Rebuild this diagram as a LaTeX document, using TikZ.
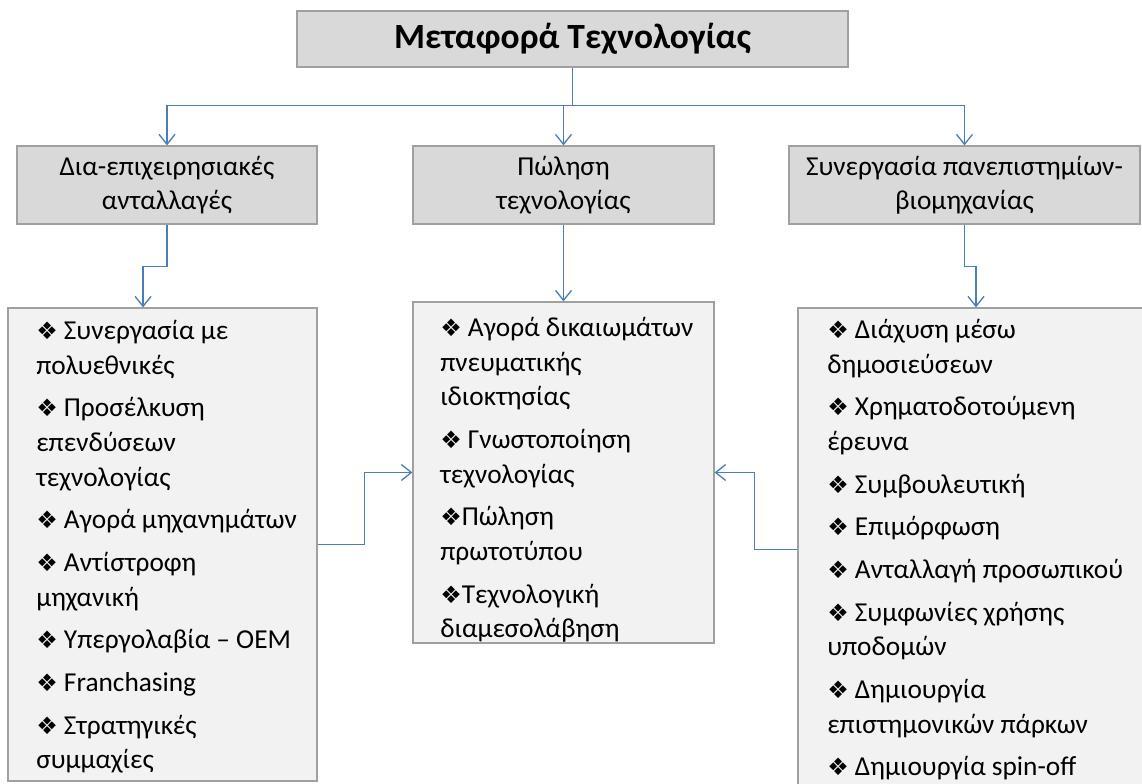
\documentclass[tikz,border=0pt]{standalone}
\usepackage{fontspec}
\setmainfont{Carlito}
\newfontfamily\symfont{DejaVu Sans}
\usepackage{xcolor}
\usetikzlibrary{arrows.meta,positioning}
\definecolor{lineblue}{HTML}{4A7EBB}
\definecolor{boxgray}{HTML}{D9D9D9}
\definecolor{listgray}{HTML}{F2F2F2}
\definecolor{edgegray}{HTML}{A0A0A0}
\newcommand{\dmd}{{\symfont\fontsize{18}{18}\selectfont ❖}}

\begin{document}
\begin{tikzpicture}[x=0.75pt, y=-0.75pt,
  hdr/.style={draw=edgegray, line width=0.9pt, fill=boxgray, align=center, inner sep=0pt,
    font=\fontsize{20.5}{25.5}\selectfont},
  lst/.style={draw=edgegray, line width=0.9pt, fill=listgray, inner sep=0pt},
  items/.style={align=left, inner sep=0pt, font=\fontsize{20.5}{26}\selectfont},
  lnk/.style={draw=lineblue, line width=1pt},
  arr/.style={lnk, -{Straight Barb[length=7.5pt, width=12pt]}}
]
\useasboundingbox (0,0) rectangle (1142,783);
\clip (0,0) rectangle (1142,783);

% top
\node[hdr, minimum width=413.25pt, minimum height=42pt, font=\bfseries\fontsize{26.6}{32}\selectfont] (title) at (572.5,39) {Μεταφορά Τεχνολογίας};

% second row
\node[hdr, minimum width=225pt, minimum height=58.5pt] (inter) at (167,185) {Δια-επιχειρησιακές\\ανταλλαγές};
\node[hdr, minimum width=225.75pt, minimum height=58.5pt] (sale) at (563.5,185) {Πώληση\\τεχνολογίας};
\node[hdr, minimum width=263.25pt, minimum height=58.5pt] (univ) at (964.5,185) {Συνεργασία πανεπιστημίων-\\βιομηχανίας};

% lists
\node[lst, minimum width=231.75pt, minimum height=354.75pt] (lbox) at (162.5,544.5) {};
\node[lst, minimum width=225.75pt, minimum height=255.75pt] (mbox) at (563.5,472.5) {};
\node[lst, minimum width=286.5pt, minimum height=391.5pt] (rbox) at (989,569) {};

\node[items, anchor=north west] (ltext) at (36,320) {\dmd{} Συνεργασία με\\πολυεθνικές\\[6pt]
  \dmd{} Προσέλκυση\\επενδύσεων\\τεχνολογίας\\[6pt]
  \dmd{} Αγορά μηχανημάτων\\[6pt]
  \dmd{} Αντίστροφη\\μηχανική\\[6pt]
  \dmd{} Υπεργολαβία – OEM\\[6pt]
  \dmd{} Franchasing\\[6pt]
  \dmd{} Στρατηγικές\\συμμαχίες};
\node[items, anchor=north west] (mtext) at (440,317) {\dmd{} Αγορά δικαιωμάτων\\πνευματικής\\ιδιοκτησίας\\[6pt]
  \dmd{} Γνωστοποίηση\\τεχνολογίας\\[6pt]
  \dmd{}Πώληση\\πρωτοτύπου\\[6pt]
  \dmd{}Τεχνολογική\\διαμεσολάβηση};
\node[items, anchor=north west] (rtext) at (827,319) {\dmd{} Διάχυση μέσω\\δημοσιεύσεων\\[6pt]
  \dmd{} Χρηματοδοτούμενη\\έρευνα\\[6pt]
  \dmd{} Συμβουλευτική\\[6pt]
  \dmd{} Επιμόρφωση\\[6pt]
  \dmd{} Ανταλλαγή προσωπικού\\[6pt]
  \dmd{} Συμφωνίες χρήσης\\υποδομών\\[6pt]
  \dmd{} Δημιουργία\\επιστημονικών πάρκων\\[6pt]
  \dmd{} Δημιουργία spin-off};

% connectors
\draw[lnk] (title.south) -- ++(0,38) coordinate (hub);
\draw[arr] (hub) -| (inter.north);
\draw[arr] (hub) -| (sale.north);
\draw[arr] (hub) -| (univ.north);
\draw[arr] (inter.south) -- ++(0,42) -| ([xshift=-14.6pt]lbox.north);
\draw[arr] (sale.south) -- (mbox.north);
\draw[arr] (univ.south) -- ++(0,42) -| ([xshift=-9.75pt]rbox.north);
\draw[arr] (lbox.east) -- ++(47,0) |- (mbox.west);
\draw[arr] (rbox.north west) ++(0,242) -- ++(-43,0) |- (mbox.east);
\end{tikzpicture}
\end{document}
